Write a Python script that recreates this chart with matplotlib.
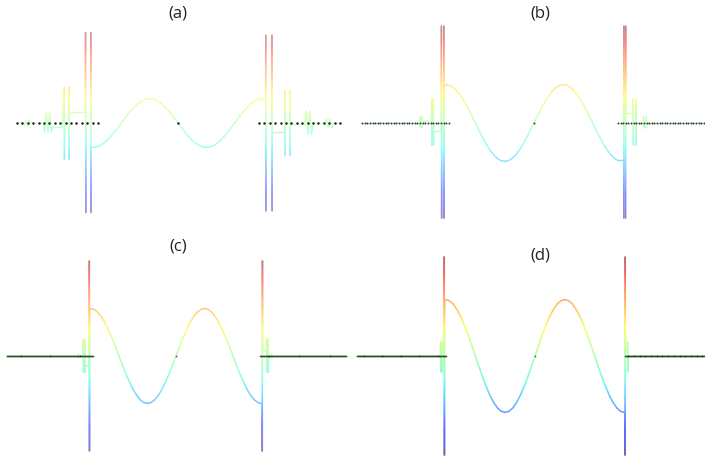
import numpy as np
import matplotlib
matplotlib.use("Agg")
import matplotlib.pyplot as plt
from matplotlib.collections import LineCollection
from matplotlib.colors import ListedColormap, Normalize


# ===== shared interior wave positions (x in units, domain [-1, 1]) =====
wave_x = [-1.0, -0.958, -0.917, -0.875, -0.833, -0.792, -0.75, -0.708, -0.667,
          -0.625, -0.583, -0.542, -0.5, -0.458, -0.417, -0.375, -0.333, -0.292,
          -0.25, -0.208, -0.167, -0.125, -0.083, -0.042, 0.0, 0.042, 0.083,
          0.125, 0.167, 0.208, 0.25, 0.292, 0.333, 0.375, 0.417, 0.458, 0.5,
          0.542, 0.583, 0.625, 0.667, 0.708, 0.75, 0.792, 0.833, 0.875, 0.917,
          0.958, 1.0]

# ---- panel (a) ----
a_wave_y = [-0.27, -0.265, -0.249, -0.224, -0.191, -0.150, -0.103, -0.053, 0.0,
            0.053, 0.103, 0.150, 0.191, 0.224, 0.249, 0.265, 0.27,
            0.265, 0.249, 0.224, 0.191, 0.150, 0.103, 0.053, 0.0,
            -0.053, -0.103, -0.150, -0.191, -0.224, -0.249, -0.265, -0.27,
            -0.265, -0.249, -0.224, -0.191, -0.150, -0.103, -0.053, 0.0,
            0.053, 0.103, 0.150, 0.191, 0.224, 0.249, 0.265, 0.27]
a_left_x = [-1.90, -1.83, -1.81, -1.79, -1.77, -1.75, -1.73, -1.59, -1.57, -1.55,
            -1.53, -1.51, -1.49, -1.47, -1.36, -1.338, -1.336, -1.334, -1.284,
            -1.282, -1.280, -1.278, -1.09, -1.088, -1.085, -1.083, -1.028,
            -1.026, -1.023, -1.021]
a_left_y = [0.0, 0.0, -0.03, 0.03, -0.03, 0.03, 0.0, 0.0, -0.10, 0.11,
            -0.10, 0.11, -0.10, -0.04, -0.04, 0.40, -0.40, 0.0, 0.0,
            0.40, -0.40, 0.12, 0.12, 1.0, -0.99, 0.0, 0.0,
            1.0, -0.99, -0.27]
a_right_x = [1.030, 1.032, 1.034, 1.036, 1.103, 1.105, 1.107, 1.109, 1.257, 1.259,
             1.261, 1.263, 1.316, 1.318, 1.320, 1.322, 1.49, 1.51, 1.53, 1.55,
             1.57, 1.59, 1.73, 1.75, 1.77, 1.79, 1.81, 1.83, 1.91]
a_right_y = [0.27, 0.97, -0.97, 0.0, 0.0, 0.97, -0.97, -0.10, -0.10, 0.36,
             -0.36, 0.0, 0.0, 0.36, -0.36, -0.01, -0.01, 0.13, -0.12, 0.13,
             -0.12, 0.0, 0.0, 0.04, -0.05, 0.04, -0.05, 0.0, 0.0]
a_nodes = 16

# ---- panel (b) ----
b_wave_y = [0.40, 0.392, 0.370, 0.332, 0.283, 0.222, 0.153, 0.078, 0.0,
            -0.078, -0.153, -0.222, -0.283, -0.332, -0.370, -0.392, -0.40,
            -0.392, -0.370, -0.332, -0.283, -0.222, -0.153, -0.078, 0.0,
            0.078, 0.153, 0.222, 0.283, 0.332, 0.370, 0.392, 0.40,
            0.392, 0.370, 0.332, 0.283, 0.222, 0.153, 0.078, 0.0,
            -0.078, -0.153, -0.222, -0.283, -0.332, -0.370, -0.392, -0.39]
b_left_x = [-1.95, -1.30, -1.297, -1.295, -1.293, -1.275, -1.273, -1.271, -1.269,
            -1.164, -1.162, -1.160, -1.158, -1.146, -1.144, -1.142, -1.140,
            -1.054, -1.052, -1.050, -1.048, -1.027, -1.025, -1.023, -1.021]
b_left_y = [0.0, 0.0, 0.066, -0.045, 0.0, 0.0, 0.066, -0.045, 0.024,
            0.024, 0.25, -0.23, 0.0, 0.0, 0.25, -0.23, -0.08,
            -0.08, 1.01, -0.99, 0.0, 0.0, 1.01, -0.99, 0.40]
b_right_x = [1.018, 1.020, 1.022, 1.024, 1.038, 1.040, 1.042, 1.044, 1.125, 1.127,
             1.129, 1.131, 1.157, 1.159, 1.161, 1.163, 1.243, 1.245, 1.247, 1.249,
             1.273, 1.275, 1.277, 1.279, 1.95]
b_right_y = [-0.39, -0.99, 1.01, 0.0, 0.0, -0.99, 1.01, 0.10, 0.10, 0.25,
             -0.23, 0.0, 0.0, 0.25, -0.23, 0.0, 0.0, 0.066, -0.05, 0.0,
             0.0, 0.066, -0.05, 0.0, 0.0]
b_nodes = 34

# ---- panel (c) ----
c_wave_y = [0.50, 0.490, 0.462, 0.416, 0.354, 0.278, 0.192, 0.098, 0.0,
            -0.098, -0.192, -0.278, -0.354, -0.416, -0.462, -0.490, -0.50,
            -0.490, -0.462, -0.416, -0.354, -0.278, -0.192, -0.098, 0.0,
            0.098, 0.192, 0.278, 0.354, 0.416, 0.462, 0.490, 0.50,
            0.490, 0.462, 0.416, 0.354, 0.278, 0.192, 0.098, 0.0,
            -0.098, -0.192, -0.278, -0.354, -0.416, -0.462, -0.490, -0.50]
c_left_x = [-1.98, -1.145, -1.143, -1.141, -1.139, -1.086, -1.084, -1.082, -1.080,
            -1.068, -1.066, -1.064, -1.062, -1.016, -1.014, -1.012, -1.010]
c_left_y = [0.0, 0.0, 0.02, -0.02, 0.0, 0.0, 0.17, -0.17, 0.0,
            0.0, 0.17, -0.17, -0.10, -0.10, 1.0, -1.0, 0.50]
c_right_x = [1.007, 1.009, 1.011, 1.013, 1.058, 1.060, 1.062, 1.064, 1.076, 1.078,
             1.080, 1.082, 1.118, 1.120, 1.122, 1.124, 1.99]
c_right_y = [-0.50, -1.0, 1.0, 0.056, 0.056, 0.18, -0.17, 0.0, 0.0, 0.18,
             -0.17, 0.0, 0.0, 0.02, -0.02, 0.0, 0.0]
c_nodes = 90

# ---- panel (d) ----
d_wave_y = [0.57, 0.559, 0.527, 0.474, 0.403, 0.317, 0.218, 0.111, 0.0,
            -0.111, -0.218, -0.317, -0.403, -0.474, -0.527, -0.559, -0.57,
            -0.559, -0.527, -0.474, -0.403, -0.317, -0.218, -0.111, 0.0,
            0.111, 0.218, 0.317, 0.403, 0.474, 0.527, 0.559, 0.57,
            0.559, 0.527, 0.474, 0.403, 0.317, 0.218, 0.111, 0.0,
            -0.111, -0.218, -0.317, -0.403, -0.474, -0.527, -0.559, -0.57]
d_left_x = [-1.99, -1.056, -1.054, -1.052, -1.050, -1.046, -1.044, -1.042, -1.040,
            -1.016, -1.014, -1.012, -1.010]
d_left_y = [0.0, 0.0, 0.14, -0.16, 0.0, 0.0, 0.14, -0.16, -0.05,
            -0.05, 1.0, -1.0, 0.57]
d_right_x = [1.004, 1.006, 1.008, 1.010, 1.032, 1.034, 1.036, 1.038, 1.90]
d_right_y = [-0.57, -1.0, 1.0, 0.04, 0.04, 0.14, -0.16, 0.0, 0.0]
d_nodes = 95

titles = ["(a)", "(b)", "(c)", "(d)"]


# pale jet colormap (jet mixed with white)
def pale_jet(strength):
    c = plt.get_cmap("jet")(np.linspace(0, 1, 256))
    c[:, :3] = strength * c[:, :3] + (1 - strength)
    return ListedColormap(c)


def draw_curve(ax, xs, ys, cmap, lw):
    # split long vertical strokes so the colour runs along them
    px, py = [], []
    for i in range(len(xs) - 1):
        n = max(1, int(abs(ys[i + 1] - ys[i]) / 0.02))
        for k in range(n):
            t = k / n
            px.append(xs[i] + (xs[i + 1] - xs[i]) * t)
            py.append(ys[i] + (ys[i + 1] - ys[i]) * t)
    px.append(xs[-1])
    py.append(ys[-1])
    pts = np.column_stack([px, py])
    segs = np.stack([pts[:-1], pts[1:]], axis=1)
    lc = LineCollection(segs, cmap=cmap, norm=Normalize(-1, 1), linewidths=lw,
                        capstyle="round", joinstyle="round", zorder=2)
    lc.set_array((pts[:-1, 1] + pts[1:, 1]) / 2)
    ax.add_collection(lc)


W, H = 705, 460
fig = plt.figure(figsize=(W / 100, H / 100), dpi=100)

# (center px x, px per unit x, zero px y, px per unit y)
layout = [(178, 85, 124, 90.5), (534, 88, 124, 96),
          (176, 85.5, 357, 95), (535, 89.5, 357, 99)]
title_pos = [(178, 14), (540, 14), (178, 247), (540, 255)]

panels = [
    (a_left_x, a_left_y, a_wave_y, a_right_x, a_right_y, a_nodes, (-1.894, -0.941, 0.953, 1.906)),
    (b_left_x, b_left_y, b_wave_y, b_right_x, b_right_y, b_nodes, (-1.955, -0.966, 0.955, 1.93)),
    (c_left_x, c_left_y, c_wave_y, c_right_x, c_right_y, c_nodes, (-1.977, -0.97, 0.98, 1.988)),
    (d_left_x, d_left_y, d_wave_y, d_right_x, d_right_y, d_nodes, (-1.99, -0.994, 1.006, 1.9)),
]
strengths = [0.4, 0.45, 0.5, 0.6]
widths = [1.0, 1.0, 1.1, 1.1]
# marker size, alpha, colour of the mesh nodes
dot_style = [(1.8, 1.0, "#222222"), (1.4, 0.9, "#222222"),
             (1.3, 0.75, "#163016"), (1.3, 0.75, "#163016")]

for i, (lx, ly, wy, rx, ry, nn, ext) in enumerate(panels):
    cx, sx, cy, sy = layout[i]
    left = cx - 2 * sx
    top = cy - 1.1 * sy
    ax = fig.add_axes([left / W, 1 - (top + 2.2 * sy) / H, 4 * sx / W, 2.2 * sy / H])
    ax.set_xlim(-2, 2)
    ax.set_ylim(-1.1, 1.1)
    ax.axis("off")

    xs = list(lx) + list(wave_x) + list(rx)
    ys = list(ly) + list(wy) + list(ry)
    draw_curve(ax, xs, ys, pale_jet(strengths[i]), widths[i])

    # mesh nodes outside the interior
    nodes = np.concatenate([np.linspace(ext[0], ext[1], nn), [0.0],
                            np.linspace(ext[2], ext[3], nn)])
    ms, al, col = dot_style[i]
    ax.plot(nodes, np.zeros_like(nodes), "o", ms=ms, color=col,
            alpha=al, mec="none", zorder=3)

    tx, ty = title_pos[i]
    fig.text(tx / W, 1 - ty / H, titles[i], ha="center", va="center",
             fontsize=12, family="Open Sans", color="#222222")

fig.savefig("out.png", dpi=100)
